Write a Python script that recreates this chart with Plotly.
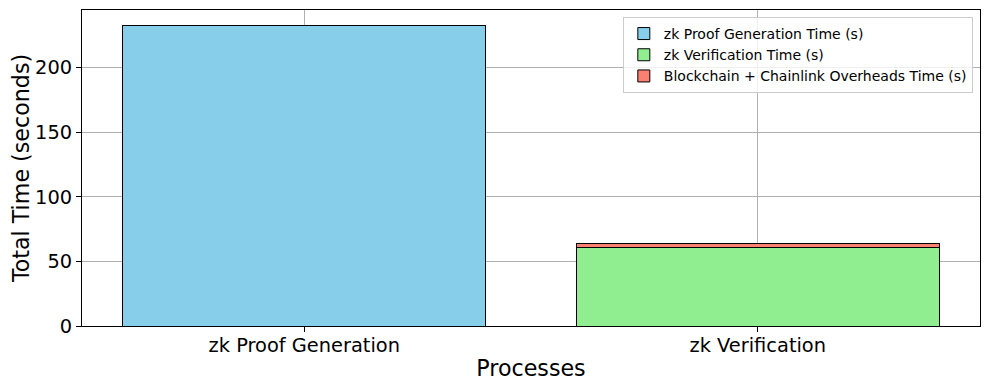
import plotly.graph_objects as go

categories = ["zk Proof Generation", "zk Verification"]
proof_gen = [233.0, None]
verification = [None, 60.6]
overheads = [None, 3.5]
series_names = ["zk Proof Generation Time (s)", "zk Verification Time (s)",
                "Blockchain + Chainlink Overheads Time (s)"]
colors = ["#87CEEB", "#90EE90", "#FA8072"]

fig = go.Figure()
for name, vals, col in zip(series_names, [proof_gen, verification, overheads], colors):
    fig.add_trace(go.Bar(
        x=categories, y=vals, name=name, width=0.8,
        marker=dict(color=col, line=dict(color="black", width=1)),
    ))

font_family = "DejaVu Sans"
fig.update_layout(
    width=981, height=382,
    margin=dict(l=74, r=9, t=2, b=64, autoexpand=False),
    barmode="stack",
    plot_bgcolor="white", paper_bgcolor="white",
    font=dict(family=font_family, color="black"),
    legend=dict(
        x=0.992, y=0.978, xanchor="right", yanchor="top",
        bordercolor="#cccccc", borderwidth=1, bgcolor="rgba(255,255,255,0.8)",
        font=dict(size=14, family=font_family),
        tracegroupgap=0, itemwidth=30, traceorder="normal",
    ),
    xaxis=dict(
        range=[-0.49, 1.49], showgrid=True, gridcolor="#b0b0b0", gridwidth=1,
        showline=True, mirror=True, linecolor="black", linewidth=1,
        ticks="outside", ticklen=5, tickcolor="black", automargin=False,
        tickfont=dict(size=19.4), layer="above traces", ticklabelstandoff=-3,
        title=dict(text="Processes", font=dict(size=22.2), standoff=4),
    ),
    yaxis=dict(
        range=[0, 244.65], showgrid=True, gridcolor="#b0b0b0", gridwidth=1,
        tickvals=[0, 50, 100, 150, 200],
        showline=True, mirror=True, linecolor="black", linewidth=1,
        ticks="outside", ticklen=5, tickcolor="black", automargin=False,
        tickfont=dict(size=19.4), layer="above traces", zeroline=False,
        title=dict(text="Total Time (seconds)", font=dict(size=22.2), standoff=8),
    ),
)

fig.write_html("out.html")
